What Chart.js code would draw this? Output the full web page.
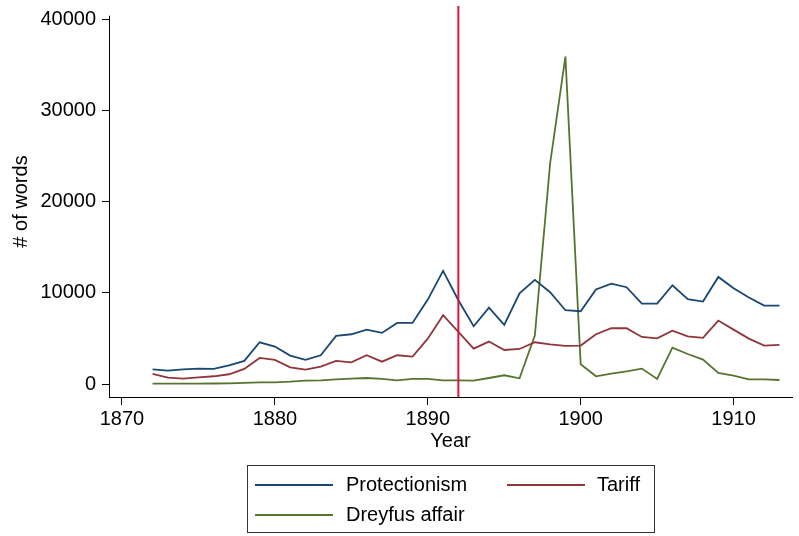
<!DOCTYPE html>
<html>
<head>
<meta charset="utf-8">
<script src="https://cdn.jsdelivr.net/npm/chart.js@4/dist/chart.umd.min.js"></script>
<style>
  html, body { margin: 0; padding: 0; background: #fff; }
</style>
</head>
<body>
<canvas id="chart" width="799" height="536"></canvas>
<script>
const years = [
  1872, 1873, 1874, 1875, 1876, 1877, 1878, 1879, 1880, 1881,
  1882, 1883, 1884, 1885, 1886, 1887, 1888, 1889, 1890, 1891,
  1892, 1893, 1894, 1895, 1896, 1897, 1898, 1899, 1900, 1901,
  1902, 1903, 1904, 1905, 1906, 1907, 1908, 1909, 1910, 1911,
  1912, 1913,
];
const protectionism = [
  1640, 1500, 1640, 1720, 1680, 2080, 2560, 4600, 4130, 3140,
  2670, 3180, 5300, 5480, 5990, 5630, 6720, 6720, 9280, 12420,
  9200, 6360, 8400, 6500, 9970, 11430, 10080, 8110, 8000, 10380,
  11030, 10630, 8840, 8840, 10850, 9320, 9060, 11760, 10520, 9500,
  8620, 8620,
];
const tariff = [
  1130, 730, 620, 770, 880, 1100, 1680, 2890, 2670, 1860,
  1610, 1940, 2560, 2410, 3180, 2480, 3180, 3030, 5000, 7560,
  5730, 3910, 4680, 3760, 3870, 4600, 4380, 4200, 4240, 5480,
  6140, 6140, 5190, 5040, 5880, 5260, 5080, 6980, 5990, 5000,
  4240, 4310,
];
const dreyfus = [
  70, 70, 70, 80, 90, 100, 150, 220, 220, 290,
  400, 440, 550, 620, 690, 590, 440, 590, 590, 440,
  440, 400, 690, 990, 660, 5330, 24180, 35880, 2190, 880,
  1170, 1420, 1720, 590, 4020, 3320, 2700, 1240, 950, 550,
  550, 470,
];
const xTicks = [1870, 1880, 1890, 1900, 1910];
const yTicks = [0, 10000, 20000, 30000, 40000];
const markerYear = 1892;
const seriesNames = ["Protectionism", "Tariff", "Dreyfus affair"];
const seriesColors = ["#1a476f", "#90353b", "#55752f"];

const FONT = '"Liberation Sans", Arial, sans-serif';

function toPoints(values) {
  return years.map((yr, i) => ({ x: yr, y: values[i] }));
}

// Stata-like extras: red xline, axis titles, boxed legend, short y axis line
const overlay = {
  id: "overlay",
  afterDatasetsDraw(chart) {
    const { ctx, chartArea, scales } = chart;
    const x = scales.x.getPixelForValue(markerYear);
    ctx.save();
    ctx.strokeStyle = "#d6173f";
    ctx.lineWidth = 2;
    ctx.beginPath();
    ctx.moveTo(x, chartArea.top);
    ctx.lineTo(x, chartArea.bottom);
    ctx.stroke();
    ctx.restore();
  },
  afterDraw(chart) {
    const { ctx, chartArea, scales } = chart;
    ctx.save();

    // y axis line
    const yTop = scales.y.getPixelForValue(40360);
    ctx.strokeStyle = "#000";
    ctx.lineWidth = 1;
    ctx.beginPath();
    ctx.moveTo(chartArea.left + 0.5, chartArea.bottom);
    ctx.lineTo(chartArea.left + 0.5, yTop);
    ctx.stroke();

    // axis titles
    ctx.fillStyle = "#000";
    ctx.font = "20px " + FONT;
    ctx.textAlign = "center";
    ctx.textBaseline = "middle";
    ctx.fillText("Year", (chartArea.left + chartArea.right) / 2, 441);
    ctx.save();
    ctx.translate(21, (chartArea.top + chartArea.bottom) / 2);
    ctx.rotate(-Math.PI / 2);
    ctx.fillText("# of words", 0, 0);
    ctx.restore();

    // legend box
    ctx.strokeStyle = "#333";
    ctx.lineWidth = 1;
    ctx.strokeRect(247.5, 465.5, 407, 67);
    const items = [
      { x: 255, y: 485 },
      { x: 507, y: 485 },
      { x: 255, y: 515 },
    ];
    ctx.textAlign = "left";
    items.forEach((it, i) => {
      ctx.strokeStyle = seriesColors[i];
      ctx.lineWidth = 1.8;
      ctx.beginPath();
      ctx.moveTo(it.x, it.y);
      ctx.lineTo(it.x + 78, it.y);
      ctx.stroke();
      ctx.fillStyle = "#000";
      ctx.fillText(seriesNames[i], it.x + (i === 1 ? 90 : 91), it.y);
    });
    ctx.restore();
  },
};

const ctx = document.getElementById("chart").getContext("2d");
new Chart(ctx, {
  type: "line",
  data: {
    datasets: [protectionism, tariff, dreyfus].map((values, i) => ({
      label: seriesNames[i],
      data: toPoints(values),
      borderColor: seriesColors[i],
      backgroundColor: seriesColors[i],
      borderWidth: 1.8,
      pointRadius: 0,
      tension: 0,
      fill: false,
    })),
  },
  options: {
    responsive: false,
    animation: false,
    devicePixelRatio: 1,
    layout: { padding: { top: 6, right: 7, left: 0, bottom: 0 } },
    plugins: {
      legend: { display: false },
      tooltip: { enabled: false },
    },
    scales: {
      x: {
        type: "linear",
        min: 1869.15,
        max: 1913.82,
        afterBuildTicks: (s) => { s.ticks = xTicks.map((v) => ({ value: v })); },
        afterFit: (s) => { s.height = 139; },
        ticks: {
          color: "#000",
          font: { family: FONT, size: 20 },
          padding: 2,
          maxRotation: 0,
          autoSkip: false,
          callback: (v) => String(v),
        },
        grid: { drawOnChartArea: false, tickLength: 8, color: "#000" },
        border: { display: true, color: "#000", width: 1 },
      },
      y: {
        min: -1390,
        max: 41425,
        afterBuildTicks: (s) => { s.ticks = yTicks.map((v) => ({ value: v })); },
        afterFit: (s) => {
          s.width = 109;
          s.paddingTop = 0;
          s.paddingBottom = 0;
        },
        ticks: {
          color: "#000",
          font: { family: FONT, size: 20 },
          padding: 6,
          callback: (v) => String(v),
        },
        grid: { drawOnChartArea: false, tickLength: 7, color: "#000" },
        border: { display: false },
      },
    },
  },
  plugins: [overlay],
});
</script>
</body>
</html>
